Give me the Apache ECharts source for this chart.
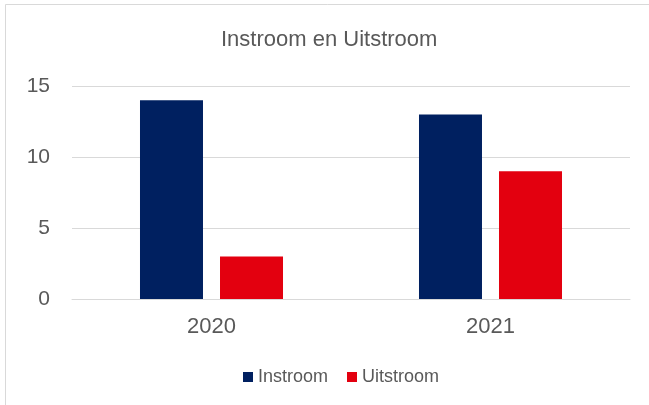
<!DOCTYPE html>
<html>
<head>
<meta charset="utf-8">
<script src="https://cdn.jsdelivr.net/npm/echarts@6/dist/echarts.min.js"></script>
<style>
  html, body { margin: 0; padding: 0; background: #fff; }
  #chart { width: 649px; height: 405px; }
</style>
</head>
<body>
<div id="chart"></div>
<script>
// data
var years = ['2020', '2021'];
var instroom = [14, 13];
var uitstroom = [3, 9];
var yTicks = { min: 0, max: 15, interval: 5 };

var textColor = '#595959';
var gridColor = '#d9d9d9';
var font = 'Liberation Sans, Arial, sans-serif';

var chart = echarts.init(document.getElementById('chart'));

chart.setOption({
  animation: false,
  backgroundColor: '#fff',
  textStyle: { fontFamily: font },
  // outer border of the chart area (only top / left visible in the crop)
  graphic: [{
    type: 'rect',
    shape: { x: 5.5, y: 4.5, width: 700, height: 500 },
    style: { fill: 'none', stroke: gridColor, lineWidth: 1 },
    silent: true
  }],
  title: {
    text: 'Instroom en Uitstroom',
    left: 216,
    top: 24,
    textStyle: { color: textColor, fontSize: 22, fontWeight: 'normal', fontFamily: font }
  },
  legend: {
    data: ['Instroom', 'Uitstroom'],
    bottom: 14,
    left: 238,
    icon: 'rect',
    itemWidth: 10,
    itemHeight: 10,
    itemGap: 19,
    textStyle: { color: textColor, fontSize: 18, fontFamily: font }
  },
  grid: {
    left: 72,
    right: 19,
    top: 86,
    bottom: 106,
    containLabel: false
  },
  xAxis: {
    type: 'category',
    data: years,
    axisTick: { show: false },
    axisLine: { lineStyle: { color: gridColor } },
    axisLabel: { color: textColor, fontSize: 22, margin: 17, fontFamily: font }
  },
  yAxis: {
    type: 'value',
    min: yTicks.min,
    max: yTicks.max,
    interval: yTicks.interval,
    axisLine: { show: false },
    axisTick: { show: false },
    splitLine: { lineStyle: { color: gridColor } },
    axisLabel: { color: textColor, fontSize: 21, margin: 22, fontFamily: font }
  },
  series: [
    {
      name: 'Instroom',
      type: 'bar',
      data: instroom,
      barWidth: 63,
      barGap: '27%',
      itemStyle: { color: '#002060' }
    },
    {
      name: 'Uitstroom',
      type: 'bar',
      data: uitstroom,
      barWidth: 63,
      barGap: '27%',
      itemStyle: { color: '#e3000f' }
    }
  ]
});
</script>
</body>
</html>
